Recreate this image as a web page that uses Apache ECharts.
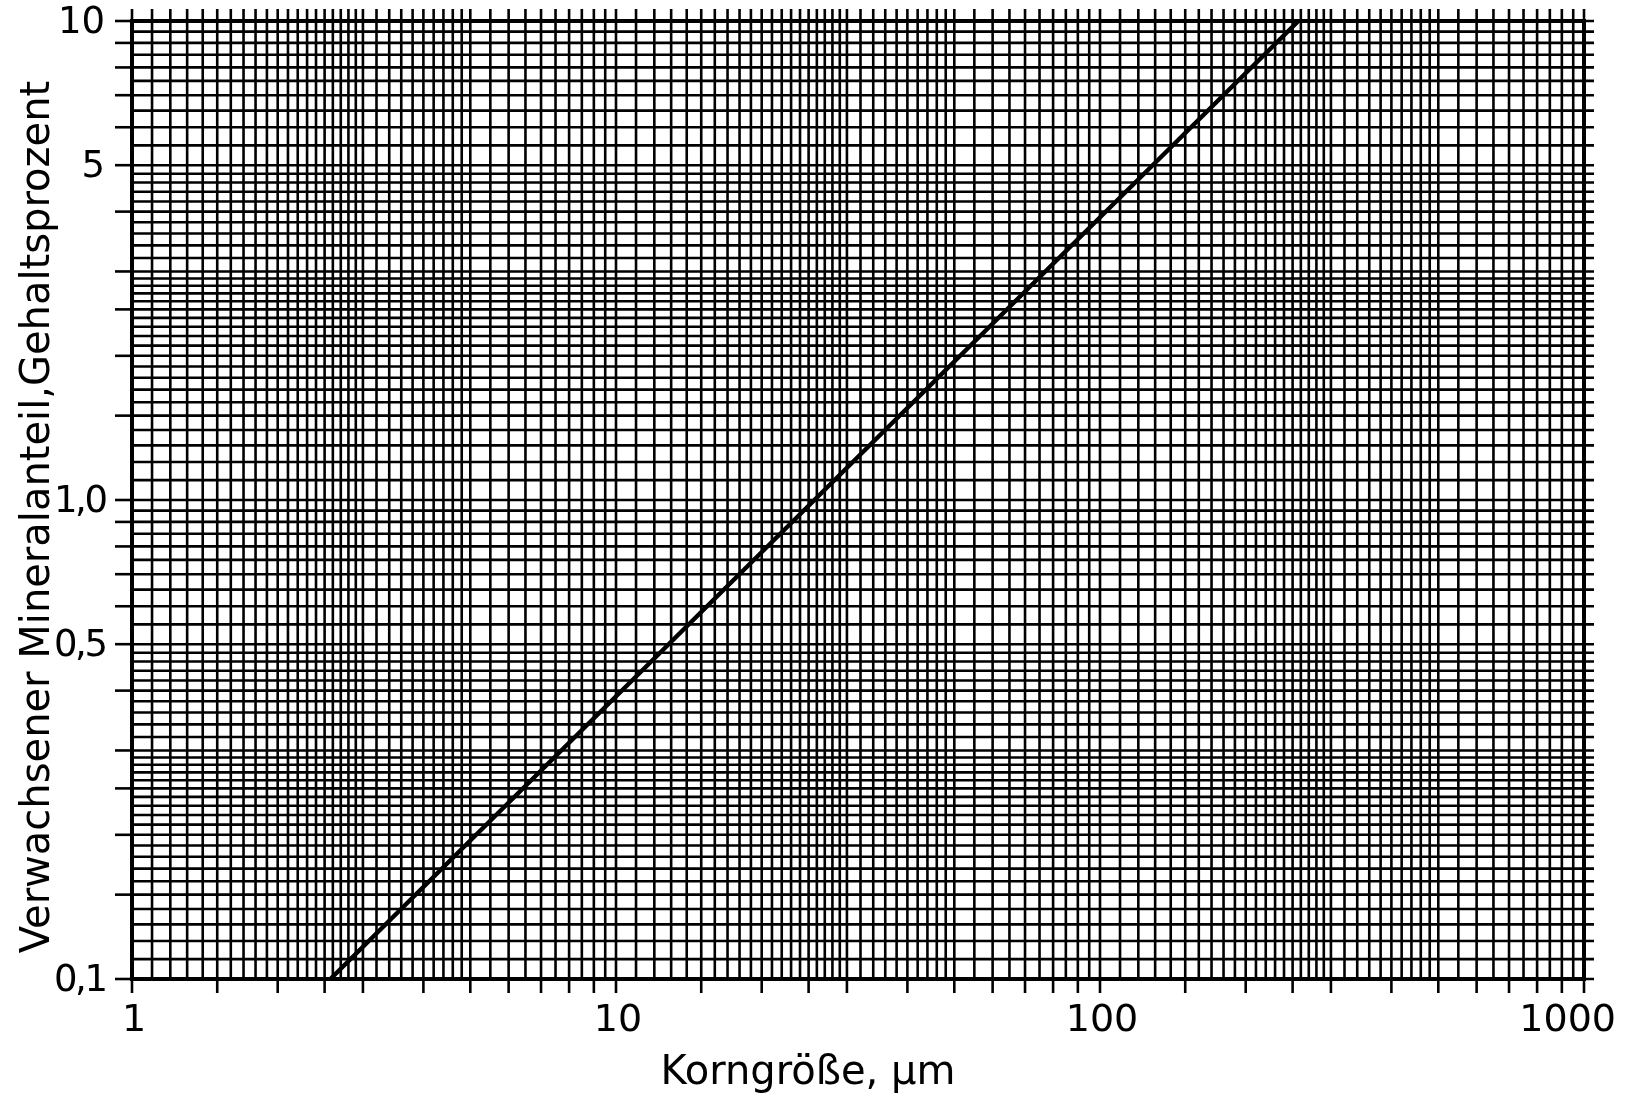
<!DOCTYPE html>
<html>
<head>
<meta charset="utf-8">
<script src="https://cdn.jsdelivr.net/npm/echarts@6/dist/echarts.min.js"></script>
<style>
  html, body { margin: 0; padding: 0; background: #ffffff; }
  #chart { width: 1628px; height: 1104px; }
</style>
</head>
<body>
<div id="chart"></div>
<script>
// Axis ranges (log-log paper, 3 decades × 2 decades)
const X_MIN = 1, X_MAX = 1000;
const Y_MIN = 0.1, Y_MAX = 10;

// Labelled values and their printed texts (decimal comma)
const xLabelValues = [1, 10, 100, 1000];
const xLabelTexts = ['1', '10', '100', '1000'];
const yLabelValues = [0.1, 0.5, 1, 5, 10];
const yLabelTexts = ['0,1', '0,5', '1,0', '5', '10'];

// Ruling of the log paper within one decade
const gridMantissas = [
  1, 1.1, 1.2, 1.3, 1.4, 1.5, 1.6, 1.7, 1.8, 1.9,
  2, 2.1, 2.2, 2.3, 2.4, 2.5, 2.6, 2.7, 2.8, 2.9,
  3, 3.2, 3.4, 3.6, 3.8, 4, 4.2, 4.4, 4.6, 4.8,
  5, 5.5, 6, 6.5, 7, 7.5, 8, 8.5, 9, 9.5
];
// Outer tick marks within one decade
const tickMantissas = [1, 1.5, 2, 2.5, 3, 4, 5, 6, 7, 8, 9];
const xDecades = [1, 10, 100];
const yDecades = [0.1, 1];

// Straight line: intergrown mineral share vs. grain size
const grainSize = [2.57, 25.7, 257];
const intergrownShare = [0.1, 1.0, 10];

const FONT = 'DejaVu Sans';
const INK = '#000000';
const RULE_WIDTH = 2.6;

function spread(decades, mantissas, last) {
  const out = [];
  decades.forEach(d => mantissas.forEach(m => out.push(+(m * d).toPrecision(6))));
  if (last !== undefined) out.push(last);
  return out;
}

const xGrid = spread(xDecades, gridMantissas, X_MAX);
const yGrid = spread(yDecades, gridMantissas, Y_MAX);
const xTicks = spread(xDecades, tickMantissas, X_MAX);
const yTicks = spread(yDecades, tickMantissas, Y_MAX);

function vGridItem(params, api) {
  const v = api.value(0);
  const a = api.coord([v, Y_MAX]);
  const b = api.coord([v, Y_MIN]);
  return { type: 'line', silent: true,
    shape: { x1: a[0], y1: a[1] - 12, x2: b[0], y2: b[1] },
    style: { stroke: INK, lineWidth: RULE_WIDTH } };
}
function hGridItem(params, api) {
  const v = api.value(1);
  const a = api.coord([X_MIN, v]);
  const b = api.coord([X_MAX, v]);
  return { type: 'line', silent: true,
    shape: { x1: a[0], y1: a[1], x2: b[0] + 10, y2: b[1] },
    style: { stroke: INK, lineWidth: RULE_WIDTH } };
}
function xTickItem(params, api) {
  const p = api.coord([api.value(0), Y_MIN]);
  return { type: 'line', silent: true,
    shape: { x1: p[0], y1: p[1], x2: p[0], y2: p[1] + 14 },
    style: { stroke: INK, lineWidth: RULE_WIDTH } };
}
function yTickItem(params, api) {
  const p = api.coord([X_MIN, api.value(1)]);
  return { type: 'line', silent: true,
    shape: { x1: p[0] - 17, y1: p[1], x2: p[0], y2: p[1] },
    style: { stroke: INK, lineWidth: RULE_WIDTH } };
}
function xLabelItem(params, api) {
  const p = api.coord([api.value(0), Y_MIN]);
  const isLast = params.dataIndex === xLabelValues.length - 1;
  return { type: 'text', silent: true,
    x: isLast ? p[0] + 32 : p[0] + 2, y: p[1] + 42,
    style: { text: xLabelTexts[params.dataIndex], fill: INK,
      fontFamily: FONT, fontSize: 38,
      align: isLast ? 'right' : 'center', verticalAlign: 'middle' } };
}
function yLabelItem(params, api) {
  const p = api.coord([X_MIN, api.value(1)]);
  // the decimal comma is set tight between the digits
  const txt = yLabelTexts[params.dataIndex].replace(',', '{c|,}');
  const hasComma = txt !== yLabelTexts[params.dataIndex];
  return { type: 'text', silent: true,
    x: p[0] - (hasComma ? 24 : 27), y: p[1] + 2,
    style: { text: txt, fill: INK,
      fontFamily: FONT, fontSize: 37,
      align: 'right', verticalAlign: 'middle',
      rich: { c: { width: 7, align: 'center', fontFamily: FONT, fontSize: 37, fill: INK } } } };
}

const chart = echarts.init(document.getElementById('chart'), null, { renderer: 'canvas' });

chart.setOption({
  backgroundColor: '#ffffff',
  animation: false,
  grid: {
    left: 132, right: 44, top: 21, bottom: 125,
    show: true, borderColor: INK, borderWidth: 4, backgroundColor: 'transparent'
  },
  xAxis: {
    type: 'log', logBase: 10, min: X_MIN, max: X_MAX,
    axisLine: { show: false }, axisTick: { show: false },
    axisLabel: { show: false }, splitLine: { show: false },
    name: 'Korngröße, µm', nameLocation: 'middle', nameGap: 75,
    nameTextStyle: { color: INK, fontFamily: FONT, fontSize: 40, padding: [0, 100, 0, 0] }
  },
  yAxis: {
    type: 'log', logBase: 10, min: Y_MIN, max: Y_MAX,
    axisLine: { show: false }, axisTick: { show: false },
    axisLabel: { show: false }, splitLine: { show: false },
    name: 'Verwachsener Mineralanteil,Gehaltsprozent', nameLocation: 'middle',
    nameGap: 73, nameRotate: 90,
    nameTextStyle: { color: INK, fontFamily: FONT, fontSize: 40, padding: [0, 34, 0, 0] }
  },
  series: [
    { type: 'custom', name: 'vertical rules', renderItem: vGridItem, z: 1,
      data: xGrid.map(v => [v, Y_MIN]) },
    { type: 'custom', name: 'horizontal rules', renderItem: hGridItem, z: 1,
      data: yGrid.map(v => [X_MIN, v]) },
    { type: 'custom', name: 'x ticks', renderItem: xTickItem, z: 2,
      data: xTicks.map(v => [v, Y_MIN]) },
    { type: 'custom', name: 'y ticks', renderItem: yTickItem, z: 2,
      data: yTicks.map(v => [X_MIN, v]) },
    { type: 'custom', name: 'x labels', renderItem: xLabelItem, z: 3,
      data: xLabelValues.map(v => [v, Y_MIN]) },
    { type: 'custom', name: 'y labels', renderItem: yLabelItem, z: 3,
      data: yLabelValues.map(v => [X_MIN, v]) },
    { type: 'line', name: 'Verwachsener Mineralanteil', z: 5,
      data: grainSize.map((x, i) => [x, intergrownShare[i]]),
      symbol: 'none', silent: true,
      lineStyle: { color: INK, width: 4.5 } }
  ]
});
</script>
</body>
</html>
